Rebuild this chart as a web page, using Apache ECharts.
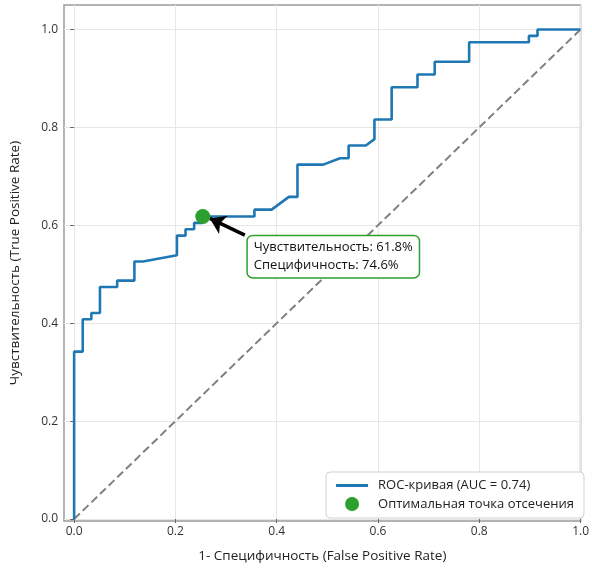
<!DOCTYPE html>
<html>
<head>
<meta charset="utf-8">
<script src="https://cdn.jsdelivr.net/npm/echarts@6/dist/echarts.min.js"></script>
<style>
  html, body { margin: 0; padding: 0; background: #fff; }
  #chart { width: 592px; height: 568px; }
</style>
</head>
<body>
<div id="chart"></div>
<script>
// ROC curve (FPR / TPR pairs)
const fpr = [0, 0, 0.017, 0.017, 0.034, 0.034, 0.051, 0.051, 0.085, 0.085, 0.119, 0.119,
  0.136, 0.203, 0.203, 0.220, 0.220, 0.237, 0.237, 0.254, 0.254, 0.356, 0.356, 0.390,
  0.424, 0.441, 0.441, 0.492, 0.525, 0.542, 0.542, 0.576, 0.593, 0.593, 0.627, 0.627,
  0.678, 0.678, 0.712, 0.712, 0.780, 0.780, 0.898, 0.898, 0.915, 0.915, 1.0];
const tpr = [0, 0.342, 0.342, 0.408, 0.408, 0.421, 0.421, 0.474, 0.474, 0.487, 0.487, 0.526,
  0.526, 0.539, 0.579, 0.579, 0.592, 0.592, 0.605, 0.605, 0.618, 0.618, 0.632, 0.632,
  0.658, 0.658, 0.724, 0.724, 0.737, 0.737, 0.763, 0.763, 0.776, 0.816, 0.816, 0.882,
  0.882, 0.908, 0.908, 0.934, 0.934, 0.974, 0.974, 0.987, 0.987, 1.0, 1.0];
const diagX = [0, 1];
const diagY = [0, 1];
const optimal = [0.254, 0.618];
const optimalText = ['Чувствительность: 61.8%', 'Специфичность: 74.6%'];
const arrowFrom = [0.337, 0.580];
const arrowTo = [0.268, 0.614];
const xTicks = [0, 0.2, 0.4, 0.6, 0.8, 1.0];
const yTicks = [0, 0.2, 0.4, 0.6, 0.8, 1.0];
const seriesNames = ['ROC-кривая (AUC = 0.74)', 'Оптимальная точка отсечения'];

const font = '"Open Sans", "Noto Sans", sans-serif';
const chart = echarts.init(document.getElementById('chart'));

const axisCommon = {
  type: 'value',
  nameLocation: 'middle',
  nameTextStyle: { color: '#222', fontSize: 13.5, fontFamily: font },
  axisLine: { show: false },
  axisTick: { show: true, length: 4, lineStyle: { color: '#666' } },
  axisLabel: { color: '#333', fontSize: 12, fontFamily: font, formatter: v => v.toFixed(1) },
  splitLine: { show: true, lineStyle: { color: '#e6e6e6', width: 1 } }
};

chart.setOption({
  animation: false,
  grid: {
    left: 62, right: 6, top: 5, bottom: 41,
    show: true, borderColor: '#9a9a9a', borderWidth: 1.5
  },
  xAxis: Object.assign({}, axisCommon, {
    min: -0.02, max: 1.0,
    name: '1- Специфичность (False Positive Rate)',
    nameGap: 28,
    axisTick: Object.assign({}, axisCommon.axisTick, { customValues: xTicks }),
    axisLabel: Object.assign({}, axisCommon.axisLabel, { customValues: xTicks, margin: 5 }),
    splitLine: Object.assign({}, axisCommon.splitLine, { customValues: xTicks })
  }),
  yAxis: Object.assign({}, axisCommon, {
    min: -0.004, max: 1.05,
    name: 'Чувствительность (True Positive Rate)',
    nameGap: 42,
    axisTick: Object.assign({}, axisCommon.axisTick, { customValues: yTicks }),
    axisLabel: Object.assign({}, axisCommon.axisLabel, { customValues: yTicks, margin: 6 }),
    splitLine: Object.assign({}, axisCommon.splitLine, { customValues: yTicks })
  }),
  legend: {
    data: [
      { name: seriesNames[0], icon: 'path://M0,0 L32,0 L32,3 L0,3 Z', itemStyle: { color: '#1f77b4' } },
      { name: seriesNames[1], icon: 'circle', itemStyle: { color: '#2ca02c' } }
    ],
    orient: 'vertical',
    right: 8, bottom: 50,
    itemWidth: 32, itemHeight: 14, itemGap: 5,
    padding: [7, 10, 7, 10],
    backgroundColor: '#fff',
    borderColor: '#d0d0d0', borderWidth: 1, borderRadius: 4,
    textStyle: { color: '#222', fontSize: 13, fontFamily: font, padding: [0, 0, 0, 5] }
  },
  series: [
    {
      name: 'diag',
      type: 'line',
      data: diagX.map((x, i) => [x, diagY[i]]),
      symbol: 'none',
      lineStyle: { color: '#808080', width: 2, type: [8, 4] },
      z: 1,
      silent: true
    },
    {
      name: seriesNames[0],
      type: 'line',
      data: fpr.map((x, i) => [x, tpr[i]]),
      symbol: 'none',
      lineStyle: { color: '#1f77b4', width: 2.6 },
      itemStyle: { color: '#1f77b4' },
      z: 3
    },
    {
      name: seriesNames[1],
      type: 'scatter',
      data: [optimal],
      symbolSize: 15,
      itemStyle: { color: '#2ca02c', opacity: 1 },
      z: 5,
      markLine: {
        silent: true,
        symbol: ['none', 'arrow'],
        symbolSize: 15,
        lineStyle: { color: '#000', width: 3.5, type: 'solid', opacity: 1 },
        itemStyle: { color: '#000' },
        label: { show: false },
        emphasis: { disabled: true },
        data: [[{ coord: arrowFrom }, { coord: arrowTo }]]
      },
      markPoint: {
        silent: true,
        symbolSize: 0,
        data: [{
          coord: [0.343, 0.536],
          label: {
            show: true,
            position: 'right',
            distance: 0,
            formatter: optimalText.join('\n'),
            color: '#111', fontSize: 13, fontFamily: font, lineHeight: 18,
            backgroundColor: '#fff',
            borderColor: '#2ca02c', borderWidth: 1.5, borderRadius: 5,
            padding: [3, 6, 2, 6]
          }
        }]
      }
    }
  ]
});
</script>
</body>
</html>
